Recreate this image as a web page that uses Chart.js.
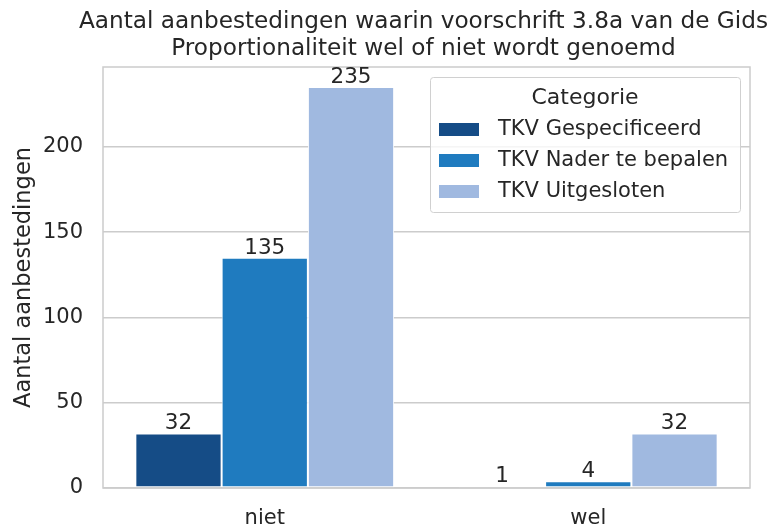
<!DOCTYPE html>
<html>
<head>
<meta charset="utf-8">
<script src="https://cdn.jsdelivr.net/npm/chart.js@4.4.1/dist/chart.umd.min.js"></script>
<style>
  html, body { margin: 0; padding: 0; background: #fff; }
  #wrap { width: 768px; height: 527px; }
</style>
</head>
<body>
<div id="wrap"><canvas id="chart" width="768" height="527"></canvas></div>
<script>
// data
const categories = ['niet', 'wel'];
const seriesNames = ['TKV Gespecificeerd', 'TKV Nader te bepalen', 'TKV Uitgesloten'];
const gespecificeerd = [32, 1];
const naderTeBepalen = [135, 4];
const uitgesloten = [235, 32];
const yTicks = [0, 50, 100, 150, 200];
const yMax = 246.75;

const colors = ['#154c86', '#1f7bbf', '#a0b9e0'];
const textColor = '#262626';
const gridColor = '#cccccc';
const font = 'DejaVu Sans';

// titel, kader, waarden en legenda binnen het plotgebied
const decorations = {
  id: 'decorations',
  beforeDatasetsDraw(chart) {
    const { ctx, chartArea: a } = chart;
    ctx.save();
    ctx.strokeStyle = gridColor;
    ctx.lineWidth = 1.5;
    ctx.strokeRect(a.left, a.top, a.right - a.left, a.bottom - a.top);
    ctx.restore();
  },
  afterDraw(chart) {
    const { ctx, chartArea: a } = chart;
    ctx.save();
    ctx.fillStyle = textColor;
    ctx.textAlign = 'center';

    // titel
    ctx.font = '23.2px "' + font + '"';
    ctx.textBaseline = 'alphabetic';
    const cx = (a.left + a.right) / 2 - 3;
    ctx.fillText('Aantal aanbestedingen waarin voorschrift 3.8a van de Gids', cx, 28);
    ctx.fillText('Proportionaliteit wel of niet wordt genoemd', cx, 55);

    // waarden boven de staven
    ctx.font = '21.5px "' + font + '"';
    chart.data.datasets.forEach((ds, i) => {
      chart.getDatasetMeta(i).data.forEach((bar, j) => {
        ctx.fillText(String(ds.data[j]), bar.x, bar.y - 4);
      });
    });

    // legenda
    const lx = 430, ly = 77, lw = 310, lh = 135;
    ctx.fillStyle = 'rgba(255,255,255,0.8)';
    ctx.strokeStyle = '#d0d0d0';
    ctx.lineWidth = 1;
    ctx.beginPath();
    ctx.roundRect(lx + 0.5, ly + 0.5, lw, lh, 3);
    ctx.fill();
    ctx.stroke();
    ctx.fillStyle = textColor;
    ctx.textBaseline = 'middle';
    ctx.font = '22px "' + font + '"';
    ctx.fillText('Categorie', lx + lw / 2, ly + 21);
    ctx.font = '21px "' + font + '"';
    ctx.textAlign = 'left';
    chart.data.datasets.forEach((ds, i) => {
      const y = ly + 52 + i * 31;
      ctx.fillStyle = ds.backgroundColor;
      ctx.fillRect(lx + 9, y - 6, 40, 13);
      ctx.fillStyle = textColor;
      ctx.fillText(ds.label, lx + 68, y + 1);
    });
    ctx.restore();
  }
};

const config = {
  type: 'bar',
  data: {
    labels: categories,
    datasets: [
      { label: seriesNames[0], data: gespecificeerd, backgroundColor: colors[0] },
      { label: seriesNames[1], data: naderTeBepalen, backgroundColor: colors[1] },
      { label: seriesNames[2], data: uitgesloten, backgroundColor: colors[2] }
    ].map(ds => Object.assign(ds, {
      borderColor: '#ffffff',
      borderWidth: 1,
      borderSkipped: false,
      categoryPercentage: 0.8,
      barPercentage: 1.0
    }))
  },
  options: {
    responsive: false,
    animation: false,
    layout: { padding: { top: 67, right: 18, left: 0, bottom: 0 } },
    plugins: {
      legend: { display: false },
      title: { display: false },
      tooltip: { enabled: false }
    },
    scales: {
      x: {
        offset: true,
        grid: { display: false },
        border: { display: false },
        ticks: { color: textColor, font: { family: font, size: 21 }, padding: 10 },
        afterFit(scale) { scale.height = 39; }
      },
      y: {
        min: 0,
        max: yMax,
        afterBuildTicks(scale) { scale.ticks = yTicks.map(v => ({ value: v })); },
        grid: { color: gridColor, lineWidth: 1.5, drawTicks: false },
        border: { display: false },
        ticks: { color: textColor, font: { family: font, size: 21 }, padding: 20 },
        title: {
          display: true,
          text: 'Aantal aanbestedingen',
          color: textColor,
          font: { family: font, size: 22.5 },
          padding: { top: 11, bottom: 4 }
        },
        afterFit(scale) { scale.width = 103; }
      }
    }
  },
  plugins: [decorations]
};

new Chart(document.getElementById('chart'), config);
</script>
</body>
</html>
